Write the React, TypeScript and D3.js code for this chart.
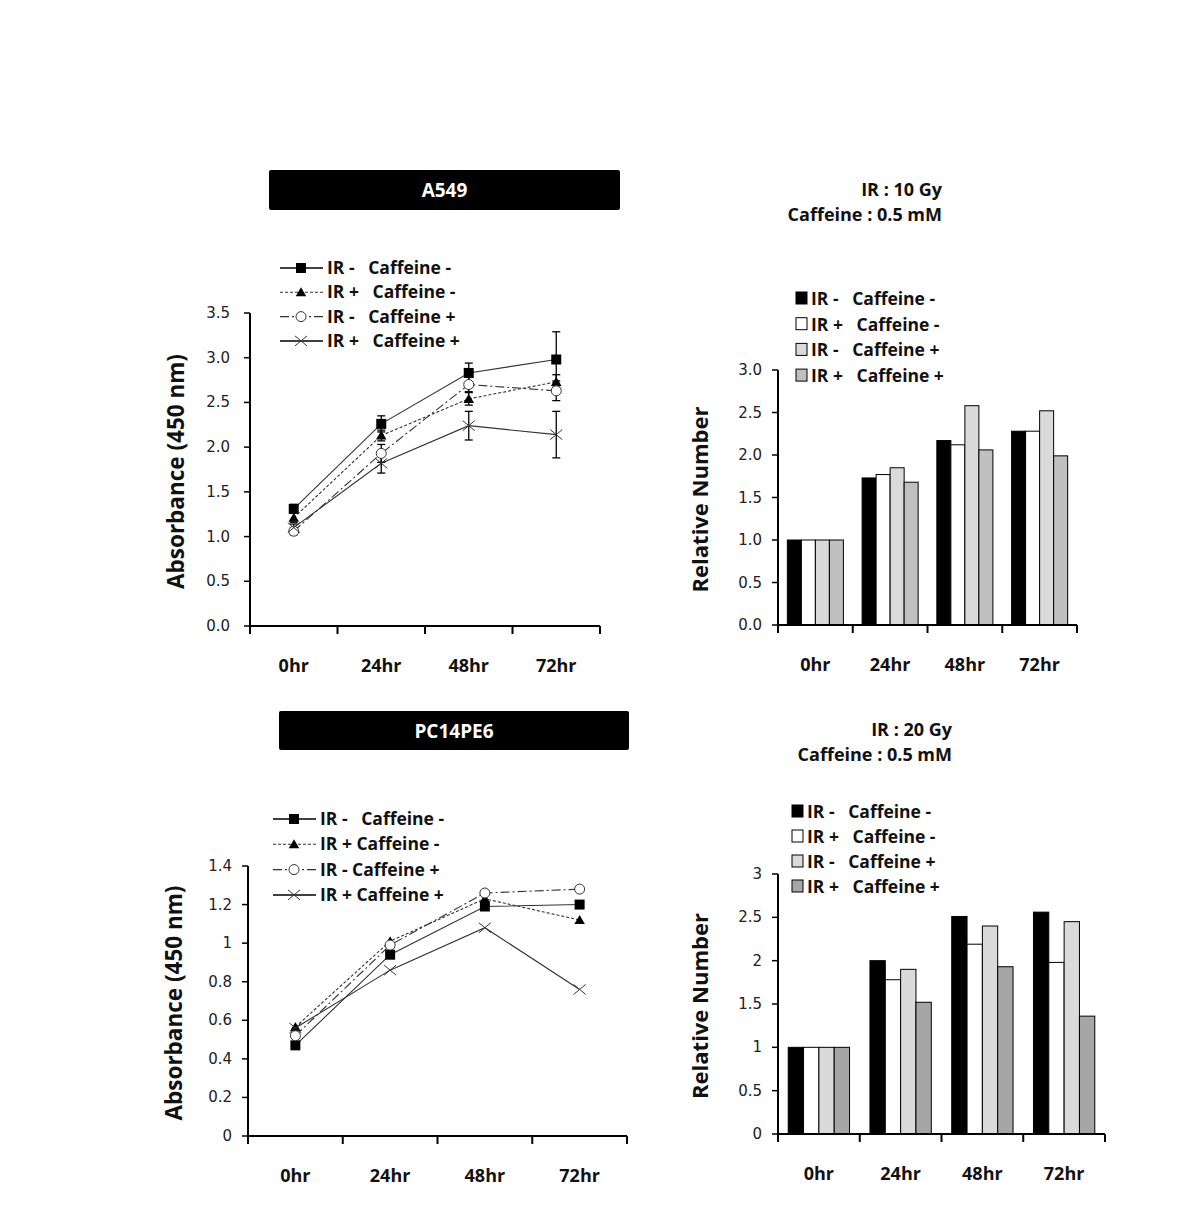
import React from "react";
import * as d3 from "d3";

// ---------- DATA ----------
const timeLabels = ["0hr", "24hr", "48hr", "72hr"];

// A549 absorbance (line chart)
const a549Labels = ["IR -   Caffeine -", "IR +   Caffeine -", "IR -   Caffeine +", "IR +   Caffeine +"];
const a549IRnCafn = [1.31, 2.26, 2.83, 2.98];
const a549IRpCafn = [1.21, 2.13, 2.54, 2.73];
const a549IRnCafp = [1.06, 1.93, 2.70, 2.63];
const a549IRpCafp = [1.10, 1.82, 2.24, 2.14];
const a549ErrIRnCafn = [0.05, 0.09, 0.11, 0.31];
const a549ErrIRpCafn = [0.05, 0.06, 0.07, 0.08];
const a549ErrIRnCafp = [0.04, 0.10, 0.08, 0.11];
const a549ErrIRpCafp = [0.04, 0.11, 0.16, 0.26];
const a549YTicks = [0, 0.5, 1.0, 1.5, 2.0, 2.5, 3.0, 3.5];

// A549 relative number (bar chart), IR 10 Gy
const barLabels = ["IR -   Caffeine -", "IR +   Caffeine -", "IR -   Caffeine +", "IR +   Caffeine +"];
const rel10IRnCafn = [1.0, 1.73, 2.17, 2.28];
const rel10IRpCafn = [1.0, 1.77, 2.12, 2.28];
const rel10IRnCafp = [1.0, 1.85, 2.58, 2.52];
const rel10IRpCafp = [1.0, 1.68, 2.06, 1.99];
const rel10YTicks = [0, 0.5, 1.0, 1.5, 2.0, 2.5, 3.0];

// PC14PE6 absorbance (line chart)
const pcLabels = ["IR -   Caffeine -", "IR + Caffeine -", "IR - Caffeine +", "IR + Caffeine +"];
const pcIRnCafn = [0.47, 0.94, 1.19, 1.20];
const pcIRpCafn = [0.565, 1.01, 1.23, 1.12];
const pcIRnCafp = [0.52, 0.99, 1.26, 1.28];
const pcIRpCafp = [0.56, 0.86, 1.08, 0.76];
const pcYTicks = [0, 0.2, 0.4, 0.6, 0.8, 1.0, 1.2, 1.4];

// PC14PE6 relative number (bar chart), IR 20 Gy
const rel20IRnCafn = [1.0, 2.0, 2.51, 2.56];
const rel20IRpCafn = [1.0, 1.78, 2.19, 1.98];
const rel20IRnCafp = [1.0, 1.90, 2.40, 2.45];
const rel20IRpCafp = [1.0, 1.52, 1.93, 1.36];
const rel20YTicks = [0, 0.5, 1, 1.5, 2, 2.5, 3];

// ---------- STYLE ----------
const LABEL_FONT = "'Open Sans', 'Noto Sans', sans-serif";
const TICK_FONT = "'DejaVu Sans', sans-serif";
const LINE_COLOR = "#333";
const dashes = [null, "3,2", "9,3,2,3", null];
const markerTypes = ["square", "triangle", "circle", "x"];

function Marker({ type, x, y }: { type: string; x: number; y: number }) {
  if (type === "square") return <rect x={x - 5} y={y - 5} width={10} height={10} fill="#000" />;
  if (type === "triangle") {
    const p = d3.symbol(d3.symbolTriangle, 48)();
    return <path d={p || ""} transform={`translate(${x},${y + 1})`} fill="#000" />;
  }
  if (type === "circle") return <circle cx={x} cy={y} r={5} fill="#fff" stroke={LINE_COLOR} strokeWidth={1} />;
  return <path d="M-6,-5L6,5M-6,5L6,-5" transform={`translate(${x},${y})`} stroke={LINE_COLOR} strokeWidth={1} fill="none" />;
}

type LineProps = {
  x0: number; x1: number; yTop: number; yBot: number; yMax: number;
  ticks: number[]; fmt: (v: number) => string; labelGap: number;
  series: number[][]; errors?: number[][]; labels: string[];
  legX: number; legY: number; legDy: number;
  box: { x: number; y: number; w: number; h: number; text: string };
};

function LinePanel(p: LineProps) {
  const x = d3.scaleBand<string>().domain(timeLabels).range([p.x0, p.x1]);
  const y = d3.scaleLinear().domain([0, p.yMax]).range([p.yBot, p.yTop]);
  const cx = (t: string) => (x(t) as number) + x.bandwidth() / 2;
  const line = d3.line<number>().x((_, i) => cx(timeLabels[i])).y((v) => y(v));
  const boundaries = [...timeLabels.map((t) => x(t) as number), p.x1];
  return (
    <g>
      <rect x={p.box.x} y={p.box.y} width={p.box.w} height={p.box.h} fill="#000" rx={2} />
      <text x={p.box.x + p.box.w / 2} y={p.box.y + p.box.h / 2 + 7} textAnchor="middle" fill="#fff"
        fontFamily={LABEL_FONT} fontWeight="bold" fontSize={19}>{p.box.text}</text>
      {/* y axis */}
      <line x1={p.x0} x2={p.x0} y1={p.yTop} y2={p.yBot} stroke="#000" strokeWidth={2} />
      {p.ticks.map((t) => (
        <g key={t}>
          <line x1={p.x0 - 6} x2={p.x0} y1={y(t)} y2={y(t)} stroke="#000" strokeWidth={1.5} />
          <text x={p.x0 - p.labelGap} y={y(t) + 5} textAnchor="end" fontFamily={TICK_FONT} fontSize={15} fill="#222">{p.fmt(t)}</text>
        </g>
      ))}
      {/* x axis */}
      <line x1={p.x0} x2={p.x1} y1={p.yBot} y2={p.yBot} stroke="#000" strokeWidth={2} />
      {boundaries.map((b, i) => (
        <line key={i} x1={b} x2={b} y1={p.yBot} y2={p.yBot + 8} stroke="#000" strokeWidth={2} />
      ))}
      {timeLabels.map((t) => (
        <text key={t} x={cx(t)} y={p.yBot + 46} textAnchor="middle" fontFamily={LABEL_FONT} fontWeight="bold" fontSize={18} fill="#111">{t}</text>
      ))}
      <text transform={`translate(${p.x0 - 66},${(p.yTop + p.yBot) / 2 + 2}) rotate(-90)`} textAnchor="middle"
        fontFamily={LABEL_FONT} fontWeight="bold" fontSize={22.5} fill="#111">Absorbance (450 nm)</text>
      {/* series */}
      {p.series.map((s, si) => (
        <path key={si} d={line(s) || ""} fill="none" stroke={LINE_COLOR} strokeWidth={1.1}
          strokeDasharray={dashes[si] || undefined} />
      ))}
      {p.errors && p.errors.map((e, si) => (
        <g key={si}>
          {e.map((ev, i) => {
            const xc = cx(timeLabels[i]);
            const v = p.series[si][i];
            return (
              <g key={i} stroke="#000" strokeWidth={1.3}>
                <line x1={xc} x2={xc} y1={y(v - ev)} y2={y(v + ev)} />
                <line x1={xc - 4} x2={xc + 4} y1={y(v - ev)} y2={y(v - ev)} />
                <line x1={xc - 4} x2={xc + 4} y1={y(v + ev)} y2={y(v + ev)} />
              </g>
            );
          })}
        </g>
      ))}
      {p.series.map((s, si) => (
        <g key={si}>
          {s.map((v, i) => <Marker key={i} type={markerTypes[si]} x={cx(timeLabels[i])} y={y(v)} />)}
        </g>
      ))}
      {/* legend */}
      {p.labels.map((l, i) => {
        const ly = p.legY + i * p.legDy;
        return (
          <g key={l}>
            <line x1={p.legX} x2={p.legX + 43} y1={ly} y2={ly} stroke={i === 0 || i === 3 ? "#000" : LINE_COLOR}
              strokeWidth={i === 0 || i === 3 ? 1.5 : 1.1} strokeDasharray={dashes[i] || undefined} />
            <Marker type={markerTypes[i]} x={p.legX + 21} y={ly} />
            <text x={p.legX + 47} y={ly + 6} fontFamily={LABEL_FONT} fontWeight="bold" fontSize={17.5} fill="#111"
              style={{ whiteSpace: "pre" }}>{l}</text>
          </g>
        );
      })}
    </g>
  );
}

type BarProps = {
  x0: number; x1: number; yTop: number; yBot: number; yMax: number;
  ticks: number[]; fmt: (v: number) => string;
  series: number[][]; colors: string[]; labels: string[];
  legX: number; legY: number; legDy: number;
  title1: string; title2: string; titleX: number; titleY: number;
};

function BarPanel(p: BarProps) {
  const x = d3.scaleBand<string>().domain(timeLabels).range([p.x0, p.x1]).paddingInner(0.25).paddingOuter(0.125);
  const xOuter = d3.scaleBand<string>().domain(timeLabels).range([p.x0, p.x1]);
  const keys = p.series.map((_, i) => String(i));
  const x1 = d3.scaleBand<string>().domain(keys).range([0, x.bandwidth()]);
  const y = d3.scaleLinear().domain([0, p.yMax]).range([p.yBot, p.yTop]);
  const boundaries = [...timeLabels.map((t) => xOuter(t) as number), p.x1];
  return (
    <g>
      <text x={p.titleX} y={p.titleY} textAnchor="end" fontFamily={LABEL_FONT} fontWeight="bold" fontSize={18} fill="#111">{p.title1}</text>
      <text x={p.titleX} y={p.titleY + 25} textAnchor="end" fontFamily={LABEL_FONT} fontWeight="bold" fontSize={18} fill="#111">{p.title2}</text>
      {p.ticks.map((t) => (
        <g key={t}>
          <line x1={p.x0 - 6} x2={p.x0} y1={y(t)} y2={y(t)} stroke="#000" strokeWidth={1.5} />
          <text x={p.x0 - 16} y={y(t) + 5} textAnchor="end" fontFamily={TICK_FONT} fontSize={15} fill="#222">{p.fmt(t)}</text>
        </g>
      ))}
      {timeLabels.map((t, gi) => (
        <g key={t}>
          {p.series.map((s, si) => (
            <rect key={si} x={(x(t) as number) + (x1(String(si)) as number)} y={y(s[gi])}
              width={x1.bandwidth()} height={p.yBot - y(s[gi])} fill={p.colors[si]} stroke="#000" strokeWidth={1} />
          ))}
        </g>
      ))}
      <line x1={p.x0} x2={p.x0} y1={p.yTop} y2={p.yBot + 8} stroke="#000" strokeWidth={2} />
      <line x1={p.x0} x2={p.x1} y1={p.yBot} y2={p.yBot} stroke="#000" strokeWidth={2} />
      {boundaries.map((b, i) => (
        <line key={i} x1={b} x2={b} y1={p.yBot} y2={p.yBot + 8} stroke="#000" strokeWidth={2} />
      ))}
      {timeLabels.map((t) => (
        <text key={t} x={(xOuter(t) as number) + xOuter.bandwidth() / 2} y={p.yBot + 46} textAnchor="middle"
          fontFamily={LABEL_FONT} fontWeight="bold" fontSize={18} fill="#111">{t}</text>
      ))}
      <text transform={`translate(${p.x0 - 70},${(p.yTop + p.yBot) / 2 + 2}) rotate(-90)`} textAnchor="middle"
        fontFamily={LABEL_FONT} fontWeight="bold" fontSize={22} fill="#111">Relative Number</text>
      {p.labels.map((l, i) => {
        const ly = p.legY + i * p.legDy;
        return (
          <g key={l}>
            <rect x={p.legX} y={ly - 7} width={11} height={12} fill={p.colors[i]} stroke="#000" strokeWidth={1} />
            <text x={p.legX + 15} y={ly + 6} fontFamily={LABEL_FONT} fontWeight="bold" fontSize={17.5} fill="#111"
              style={{ whiteSpace: "pre" }}>{l}</text>
          </g>
        );
      })}
    </g>
  );
}

export default function App() {
  const f1 = (v: number) => v.toFixed(1);
  const fg = (v: number) => String(v);
  return (
    <svg width={1190} height={1207} style={{ position: "absolute", left: 0, top: 0, background: "#fff" }}>
      <rect width={1190} height={1207} fill="#fff" />
      <LinePanel x0={250} x1={600} yTop={313} yBot={626} yMax={3.5} ticks={a549YTicks} fmt={f1} labelGap={20}
        series={[a549IRnCafn, a549IRpCafn, a549IRnCafp, a549IRpCafp]}
        errors={[a549ErrIRnCafn, a549ErrIRpCafn, a549ErrIRnCafp, a549ErrIRpCafp]}
        labels={a549Labels} legX={280} legY={268} legDy={24.3}
        box={{ x: 269, y: 170, w: 351, h: 40, text: "A549" }} />
      <BarPanel x0={778} x1={1077} yTop={370} yBot={625} yMax={3.0} ticks={rel10YTicks} fmt={f1}
        series={[rel10IRnCafn, rel10IRpCafn, rel10IRnCafp, rel10IRpCafp]}
        colors={["#000", "#fff", "#dadada", "#c0c0c0"]} labels={barLabels}
        legX={796} legY={299} legDy={25.7}
        title1="IR : 10 Gy" title2="Caffeine : 0.5 mM" titleX={942} titleY={196} />
      <LinePanel x0={248} x1={627} yTop={866} yBot={1136} yMax={1.4} ticks={pcYTicks} fmt={fg} labelGap={16}
        series={[pcIRnCafn, pcIRpCafn, pcIRnCafp, pcIRpCafp]}
        labels={pcLabels} legX={273} legY={819} legDy={25.3}
        box={{ x: 279, y: 711, w: 350, h: 39, text: "PC14PE6" }} />
      <BarPanel x0={778} x1={1105} yTop={874} yBot={1134} yMax={3} ticks={rel20YTicks} fmt={fg}
        series={[rel20IRnCafn, rel20IRpCafn, rel20IRnCafp, rel20IRpCafp]}
        colors={["#000", "#fff", "#dadada", "#a6a6a6"]} labels={barLabels}
        legX={792} legY={812} legDy={25}
        title1="IR : 20 Gy" title2="Caffeine : 0.5 mM" titleX={952} titleY={736} />
    </svg>
  );
}
